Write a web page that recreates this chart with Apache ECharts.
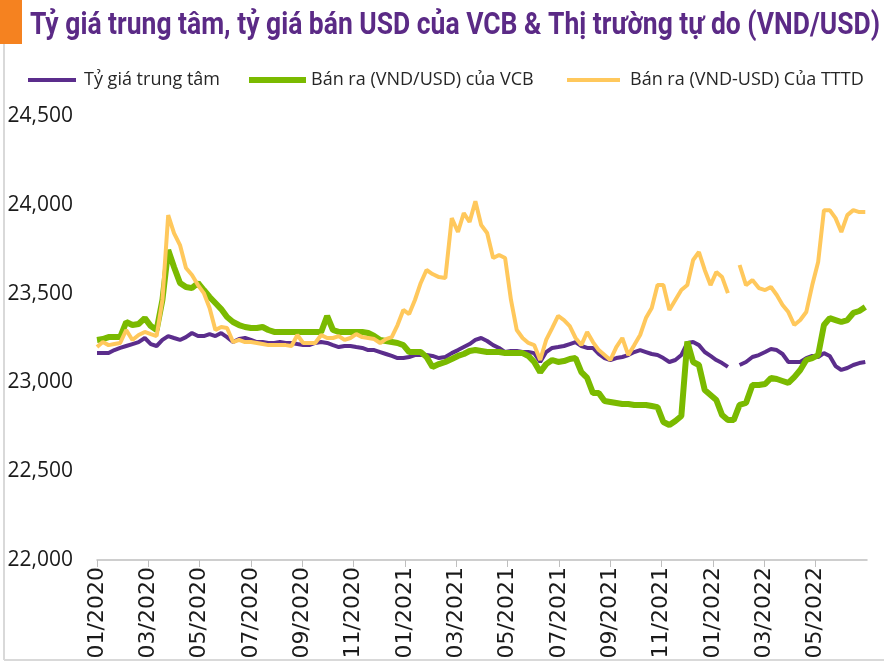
<!DOCTYPE html>
<html>
<head>
<meta charset="utf-8">
<title>Tỷ giá USD/VND</title>
<script src="https://cdn.jsdelivr.net/npm/echarts@6/dist/echarts.min.js"></script>
<style>
  html, body { margin: 0; padding: 0; background: #fff; }
  #chart { width: 884px; height: 664px; }
</style>
</head>
<body>
<div id="chart"></div>
<script>
// mỗi điểm là 1 tuần, bắt đầu từ 01/01/2020
var startDate = '2020-01-01';

// Tỷ giá trung tâm (null = nghỉ Tết)
var centralRate = [
  23165, 23165, 23165, 23182, 23194, 23205, 23216, 23227, 23250, 23216,
  23205, 23239, 23261, 23250, 23239, 23255, 23278, 23261, 23261, 23272,
  23261, 23278, 23255, 23227, 23244, 23250, 23239, 23227, 23227, 23222,
  23222, 23227, 23222, 23222, 23216, 23210, 23210, 23222, 23227, 23222,
  23210, 23199, 23205, 23205, 23199, 23194, 23182, 23182, 23171, 23160,
  23149, 23137, 23137, 23143, 23154, 23154, 23154, 23149, 23137, 23143,
  23165, 23182, 23199, 23216, 23239, 23250, 23233, 23210, 23194, 23171,
  23177, 23177, 23171, 23171, 23165, 23115, 23171, 23194, 23199, 23205,
  23216, 23227, 23205, 23194, 23194, 23160, 23137, 23126, 23137, 23143,
  23154, 23171, 23182, 23171, 23160, 23154, 23137, 23115, 23126, 23154,
  23222, 23227, 23210, 23171, 23149, 23126, 23109, 23087, null, 23098,
  23115, 23143, 23154, 23171, 23188, 23182, 23160, 23115, 23115, 23115,
  23137, 23149, 23143, 23165, 23149, 23092, 23070, 23081, 23098, 23109,
  23115
];

// Bán ra (VND/USD) của VCB
var vcbSell = [
  23239, 23244, 23255, 23255, 23255, 23340, 23323, 23329, 23362, 23317,
  23295, 23464, 23745, 23650, 23560, 23537, 23531, 23560, 23520, 23481,
  23447, 23413, 23368, 23340, 23323, 23312, 23306, 23306, 23312, 23295,
  23284, 23284, 23284, 23284, 23284, 23284, 23284, 23284, 23284, 23374,
  23295, 23284, 23284, 23284, 23284, 23284, 23278, 23261, 23239, 23233,
  23227, 23222, 23210, 23171, 23171, 23171, 23143, 23087, 23103, 23115,
  23132, 23149, 23160, 23177, 23182, 23177, 23171, 23171, 23171, 23165,
  23165, 23165, 23165, 23149, 23115, 23058, 23103, 23126, 23115, 23120,
  23132, 23137, 23058, 23025, 22940, 22940, 22895, 22890, 22884, 22878,
  22878, 22873, 22873, 22873, 22867, 22861, 22777, 22760, 22783, 22811,
  23230, 23115, 23098, 22957, 22929, 22901, 22816, 22788, 22788, 22873,
  22884, 22985, 22985, 22991, 23025, 23019, 23008, 22997, 23030, 23070,
  23126, 23137, 23154, 23323, 23362, 23351, 23340, 23351, 23391, 23402,
  23424
];

// Bán ra (VND-USD) thị trường tự do
var freeMarket = [
  23199, 23227, 23210, 23216, 23222, 23295, 23239, 23267, 23284, 23272,
  23261, 23464, 23942, 23841, 23773, 23644, 23605, 23548, 23503, 23419,
  23295, 23312, 23306, 23227, 23239, 23227, 23227, 23222, 23216, 23210,
  23210, 23210, 23210, 23205, 23267, 23222, 23222, 23222, 23267, 23250,
  23250, 23261, 23239, 23250, 23272, 23255, 23250, 23244, 23222, 23244,
  23255, 23323, 23408, 23385, 23464, 23560, 23633, 23610, 23593, 23588,
  23925, 23847, 23954, 23903, 24020, 23886, 23841, 23700, 23717, 23700,
  23464, 23295, 23250, 23222, 23210, 23126, 23239, 23306, 23374, 23351,
  23317, 23250, 23210, 23284, 23227, 23182, 23154, 23126, 23199, 23250,
  23154, 23210, 23267, 23362, 23419, 23548, 23548, 23408, 23464, 23520,
  23548, 23689, 23734, 23633, 23548, 23621, 23593, 23503, null, 23661,
  23548, 23576, 23531, 23520, 23537, 23492, 23436, 23396, 23323, 23351,
  23396, 23548, 23678, 23970, 23970, 23925, 23847, 23942, 23970, 23959,
  23959
];

var tickLabels = ['01/2020', '03/2020', '05/2020', '07/2020', '09/2020', '11/2020',
  '01/2021', '03/2021', '05/2021', '07/2021', '09/2021', '11/2021',
  '01/2022', '03/2022', '05/2022'];

var seriesNames = ['Tỷ giá trung tâm', 'Bán ra (VND/USD) của VCB', 'Bán ra (VND-USD) Của TTTD'];
var titleText = 'Tỷ giá trung tâm, tỷ giá bán USD của VCB & Thị trường tự do (VND/USD)';

// trục x tính theo tháng kể từ 01/2020
function monthIndex(d) {
  var y = d.getUTCFullYear(), m = d.getUTCMonth();
  var days = new Date(Date.UTC(y, m + 1, 0)).getUTCDate();
  return (y - 2020) * 12 + m + (d.getUTCDate() - 1) / days;
}

function toPoints(values) {
  var t0 = Date.parse(startDate + 'T00:00:00Z');
  return values.map(function (v, i) {
    var d = new Date(t0 + i * 7 * 86400000);
    return [monthIndex(d), v === null ? '-' : v];
  });
}

var tickValues = tickLabels.map(function (s, i) { return i * 2; });

var font = '"Open Sans", "DejaVu Sans", sans-serif';
var titleFont = 'bold 31px Roboto, "Noto Sans", sans-serif';

// tiêu đề dạng chữ hẹp: nén ngang cho vừa ~850px
var ctx = document.createElement('canvas').getContext('2d');
ctx.font = titleFont;
var titleScale = 850 / ctx.measureText(titleText).width;

var chart = echarts.init(document.getElementById('chart'));
var option = {
  backgroundColor: '#fff',
  animation: false,
  graphic: [
    { type: 'rect', shape: { x: 0, y: 0, width: 22, height: 44 }, style: { fill: '#f58220' } },
    { type: 'line', shape: { x1: 4, y1: 44, x2: 4, y2: 660 }, style: { stroke: '#d9d9d9', lineWidth: 2 } },
    { type: 'line', shape: { x1: 4, y1: 660, x2: 884, y2: 660 }, style: { stroke: '#d9d9d9', lineWidth: 2 } },
    {
      type: 'text', x: 30, y: 26, scaleX: titleScale,
      style: { text: titleText, font: titleFont, fill: '#5b2a86', verticalAlign: 'middle', align: 'left' }
    }
  ],
  legend: [
    {
      data: [seriesNames[0]], left: 23, top: 66, icon: 'rect', itemWidth: 48, itemHeight: 4,
      textStyle: { fontFamily: font, fontSize: 18, color: '#262626', padding: [0, 0, 0, 3] }
    },
    {
      data: [seriesNames[1]], left: 244, top: 66, icon: 'rect', itemWidth: 57, itemHeight: 6,
      textStyle: { fontFamily: font, fontSize: 18, color: '#262626', padding: [0, 0, 0, 0] }
    },
    {
      data: [seriesNames[2]], left: 562, top: 66, icon: 'rect', itemWidth: 53, itemHeight: 4,
      textStyle: { fontFamily: font, fontSize: 18, color: '#262626', padding: [0, 0, 0, 5] }
    }
  ],
  grid: { left: 97, right: 17, top: 116, bottom: 104 },
  xAxis: {
    type: 'value',
    min: 0,
    max: 30,
    splitLine: { show: false },
    axisLine: { lineStyle: { color: '#bfbfbf', width: 1.5 } },
    axisTick: { show: true, length: 7, customValues: tickValues, lineStyle: { color: '#bfbfbf' } },
    axisLabel: {
      customValues: tickValues,
      rotate: 90,
      margin: 7,
      fontFamily: '"DejaVu Sans", sans-serif',
      fontSize: 22,
      color: '#1a1a1a',
      formatter: function (v) { return tickLabels[Math.round(v / 2)] || ''; }
    }
  },
  yAxis: {
    type: 'value',
    min: 22000,
    max: 24500,
    interval: 500,
    axisLine: { show: false },
    axisTick: { show: false },
    splitLine: { show: false },
    axisLabel: {
      margin: 24,
      fontFamily: font,
      fontSize: 21,
      color: '#1a1a1a',
      formatter: function (v) { return v.toLocaleString('en-US'); }
    }
  },
  series: [
    {
      name: seriesNames[0], type: 'line', symbol: 'none', connectNulls: false,
      lineStyle: { width: 4, color: '#5b2d8c' }, itemStyle: { color: '#5b2d8c' },
      data: toPoints(centralRate)
    },
    {
      name: seriesNames[1], type: 'line', symbol: 'none',
      lineStyle: { width: 6, color: '#7aba00' }, itemStyle: { color: '#7aba00' },
      data: toPoints(vcbSell)
    },
    {
      name: seriesNames[2], type: 'line', symbol: 'none', connectNulls: false,
      lineStyle: { width: 4, color: '#ffc85c' }, itemStyle: { color: '#ffc85c' },
      data: toPoints(freeMarket)
    }
  ]
};
chart.setOption(option);
</script>
</body>
</html>
